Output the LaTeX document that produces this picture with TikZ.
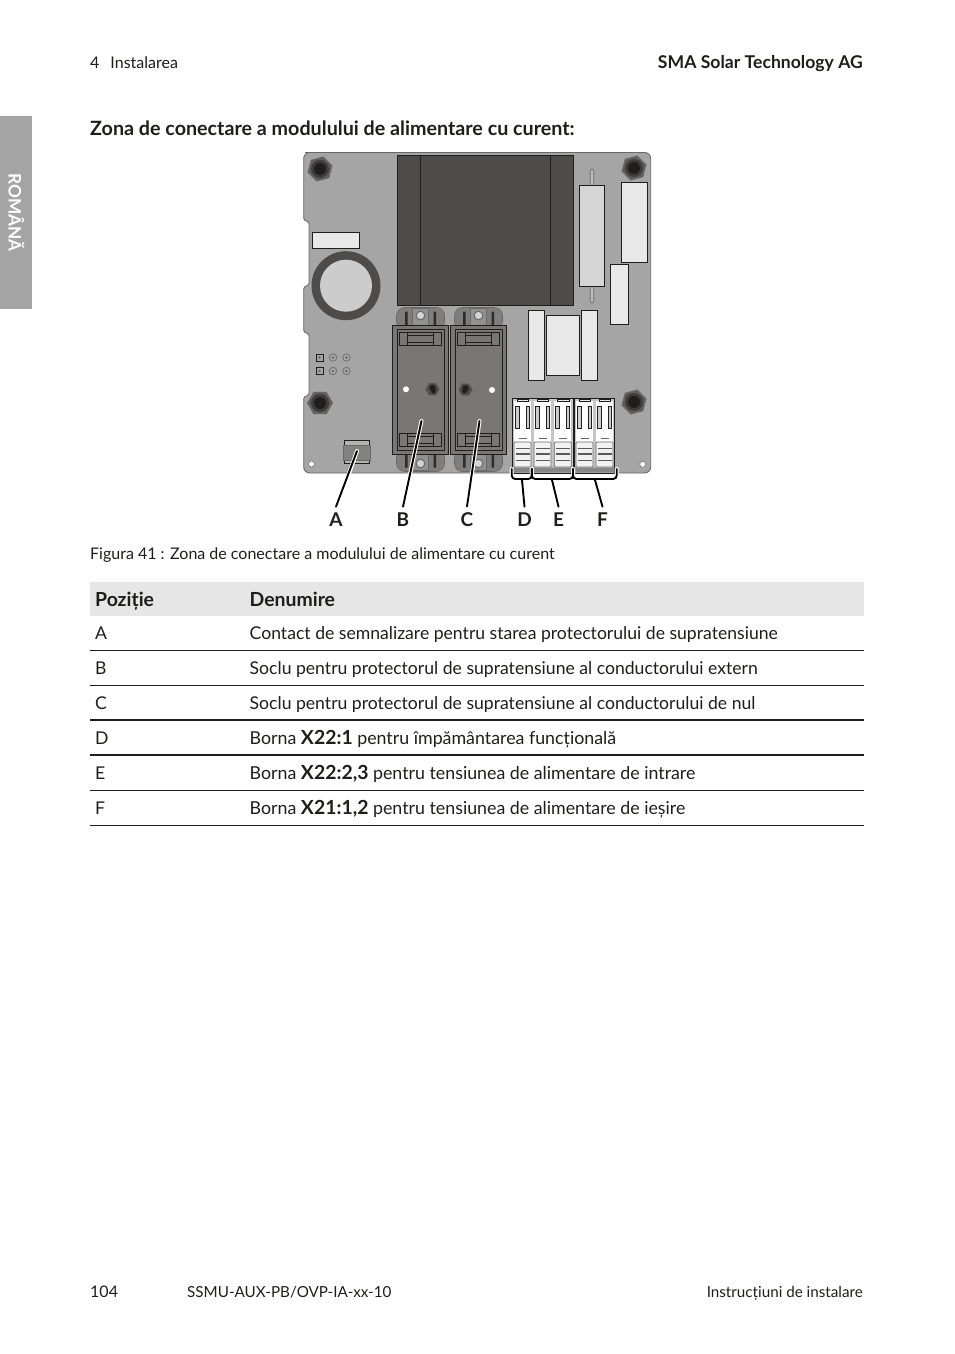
\documentclass[tikz,border=0pt]{standalone}
\usepackage{fontspec}
\setmainfont{Lato}
\usetikzlibrary{shapes.geometric}
\definecolor{board}{HTML}{A6A5A5}
\definecolor{edge}{HTML}{6A6969}
\definecolor{xfmr}{HTML}{4D4C4B}
\definecolor{ink}{HTML}{1E1E1C}
\definecolor{pale}{HTML}{E8E8E8}
\definecolor{sockfill}{HTML}{787776}
\definecolor{tabfill}{HTML}{7F7E7D}
\definecolor{sidebar}{HTML}{A5A4A4}
\definecolor{headfill}{HTML}{E6E6E6}
\newcommand{\bolder}[1]{{\fontsize{19.4}{20}\selectfont\bfseries #1}}
\tikzset{
  part/.style={draw=ink,line width=0.9pt,fill=pale},
  body/.style={anchor=base west,inner sep=0pt,text=ink,font=\fontsize{17.6}{20}\selectfont},
  bodyb/.style={anchor=base west,inner sep=0pt,text=ink,font=\fontsize{17.8}{20}\selectfont},
  bodyr/.style={anchor=base east,inner sep=0pt,text=ink,font=\fontsize{17.6}{20}\selectfont},
  small/.style={anchor=base west,inner sep=0pt,text=ink,font=\fontsize{16}{20}\selectfont},
  foot/.style={anchor=base west,inner sep=0pt,text=ink,font=\fontsize{15.2}{20}\selectfont},
  footr/.style={anchor=base east,inner sep=0pt,text=ink,font=\fontsize{15.2}{20}\selectfont},
  callout/.style={inner sep=0pt,outer sep=6pt,text=ink,font=\fontsize{19}{20}\selectfont\bfseries},
  halo/.style={white,line width=4pt,line cap=round},
  lead/.style={black,line width=1.9pt,line cap=round},
  rule/.style={ink,line width=0.9pt},
  thickrule/.style={ink,line width=1.7pt},
  nutouter/.style={regular polygon,regular polygon sides=6,minimum size=25pt,inner sep=0pt,fill=xfmr!90!white,draw=edge,line width=0.8pt},
  pinsq/.style={draw=ink,line width=0.9pt,fill=board,minimum size=7pt,inner sep=0pt},
  pinrd/.style={circle,draw=edge,line width=0.7pt,fill=board,minimum size=7.5pt,inner sep=0pt},
}
\newcommand{\boltnut}[3]{%
  \node[nutouter,rotate=#3] at (#1,#2) {};
  \fill[xfmr!80!black] (#1,#2) circle (9);
  \fill[ink] (#1,#2) circle (6);
}
\newcommand{\sockettab}[1]{%
  \begin{scope}[shift={(420.5,389.5)},yscale=#1]
    \fill[tabfill,draw=edge,line width=0.6pt,rounded corners=8] (-24,-60) -- (-24,-82) -- (24,-82) -- (24,-60) -- cycle;
    \fill[tabfill!85!white] (-8,-81) rectangle (8,-64);
    \fill[ink!85!tabfill] (-15.5,-64) rectangle (-13,-78) (13,-64) rectangle (15.5,-78);
    \draw[edge,line width=0.8pt] (-8,-65) -- (-8,-81) -- (8,-81) -- (8,-65);
    \fill[pale!70!board,draw=edge,line width=1pt] (0,-74) circle (4.3);
  \end{scope}
}
\newcommand{\socketclip}[1]{%
  \begin{scope}[shift={(420.5,389.5)},yscale=#1]
    \draw[ink,line width=0.9pt] (-21,-57) rectangle (21,-43.8);
    \draw[ink,line width=0.9pt] (-13,-57) rectangle (13,-43.8);
    \draw[ink,line width=0.9pt] (-13,-53.8) -- (13,-53.8) (-13,-47.2) -- (13,-47.2);
  \end{scope}
}
\newcommand{\socketbody}{%
  \sockettab{1}\sockettab{-1}
  \fill[sockfill,draw=ink,line width=0.9pt] (392.3,325) rectangle (448.5,454.5);
  \draw[ink,line width=0.9pt,fill=sockfill] (397.3,329.3) rectangle (444.3,450);
  \socketclip{1}\socketclip{-1}
}
\newcommand{\termmodule}{%
  \fill[white] (0,3) rectangle (17,44);
  \fill[pale,draw=ink,line width=0.7pt] (3.5,1) rectangle (14.7,3.8);
  \draw[ink,line width=1pt,fill=board!55!white] (1.4,8.5) rectangle (5.4,30);
  \draw[ink,line width=1pt,fill=board!55!white] (12,8.5) rectangle (15.6,30);
  \draw[edge,line width=0.9pt] (4.5,40.5) -- (12.5,40.5);
  \fill[pale!60!white,draw=edge,line width=0.7pt,rounded corners=1] (0,44) rectangle (17,69);
  \foreach \yy/\ww in {50/0.9,56/1.5,62.5/0.9}{
    \draw[edge!80!ink,line width=\ww pt] (1.5,\yy) -- (15.5,\yy);
  }
}
\begin{document}
\begin{tikzpicture}[x=1pt,y=-1pt]
\useasboundingbox (0,0) rectangle (954,1354);
\fill[white] (0,0) rectangle (954,1354);

% ---------- page furniture
\node[small] (hdl) at (90,68) {4\hspace{11pt}Instalarea};
\node[bodyr] (hdr) at (863,68.7) {\bfseries SMA Solar Technology AG};
\fill[sidebar] (0,116) rectangle (32,309);
\node[rotate=-90,text=white,inner sep=0pt,font=\fontsize{17.2}{18}\selectfont\bfseries] (side) at (16.5,212.5) {ROMÂNĂ};
\node[anchor=base west,inner sep=0pt,text=ink] (title) at (90,135.7) {\fontsize{19.7}{20}\selectfont\bfseries Zona de conectare a modulului de alimentare cu curent:};
\node[small] (cap) at (90,559) {Figura 41 : Zona de conectare a modulului de alimentare cu curent};

% ---------- board
\draw[fill=board,draw=edge,line width=0.9pt,rounded corners=1.5]
  (311,152.5) -- (642,152.5) [rounded corners=6] -- (650.7,152.5) -- (650.7,473) -- (303.7,473) [rounded corners=1.5]
  -- (303.7,397) -- (309,395) -- (309,334) -- (303.7,332) -- (303.7,287) -- (309,285)
  -- (309,222) -- (303.7,220) [rounded corners=6] -- (303.7,152.5) -- cycle;

% transformer
\fill[xfmr,draw=ink,line width=0.9pt] (397.3,155) rectangle (573.5,305.3);
\draw[ink,line width=0.9pt] (420.5,155) -- (420.5,305.3) (550.5,155) -- (550.5,305.3);

% nuts
\boltnut{320}{169}{15}
\boltnut{634}{168}{15}
\boltnut{320}{403}{0}
\boltnut{634}{402}{15}

% label plate and capacitor
\draw[part] (312.3,232.3) rectangle (359.7,248.3);
\fill[xfmr] (346,285.7) circle (34.5);
\fill[pale!88!black] (346,285.7) circle (26);

% right-hand parts
\fill[board!70!white,draw=edge,line width=0.7pt,rounded corners=1.5] (590.3,169) rectangle (593.7,303);
\draw[part,fill=pale!92!black] (579.4,185.3) rectangle (604.6,286.3);
\draw[part] (621.4,182.3) rectangle (647.6,262.3);
\draw[part] (610.4,264.3) rectangle (628.6,324.3);
\draw[part] (528.4,310.3) rectangle (544.6,380);
\draw[part] (546.4,315.3) rectangle (579.6,375);
\draw[part] (581.4,310.3) rectangle (597.6,380);

% pins
\foreach \py in {357.5,371}{
  \node[pinsq] at (319.5,\py) {};
  \fill[edge] (319.5,\py) circle (1.3);
  \foreach \px in {333,346.5}{
    \node[pinrd] at (\px,\py) {};
    \fill[edge] (\px,\py) circle (1.3);
  }
}
\fill[white,draw=edge,line width=0.5pt] (311.5,464) circle (3);
\fill[white,draw=edge,line width=0.5pt] (642.7,464.3) circle (3);

% sockets
\socketbody
\begin{scope}[shift={(58,0)}]\socketbody\end{scope}
\fill[white] (406,389.3) circle (3);
\fill[white] (492,390) circle (3);
\node[regular polygon,regular polygon sides=6,minimum size=14pt,inner sep=0pt,fill=xfmr,draw=edge,line width=0.5pt] at (432.5,389.3) {};
\fill[ink] (432.5,388) circle (3.2) (433.5,391) circle (2.4);
\node[regular polygon,regular polygon sides=6,minimum size=14pt,inner sep=0pt,fill=xfmr,draw=edge,line width=0.5pt] at (465.5,389.5) {};
\fill[ink] (465.5,388.5) circle (3.2) (464.5,391) circle (2.4);

% signal contact
\draw[ink,line width=0.8pt,fill=board!85!white] (344.5,440.3) rectangle (369.7,463);
\fill[xfmr!70!white,draw=edge,line width=0.6pt] (343.3,445.3) rectangle (370.7,460);

% terminal blocks
\fill[board!65!white,draw=ink,line width=0.9pt] (512.4,398.5) rectangle (573,473);
\fill[board!65!white,draw=ink,line width=0.9pt] (574,398.5) rectangle (614.7,473);
\fill[edge!80!white] (512.9,467.5) rectangle (572.5,472.5) (574.5,467.5) rectangle (614.2,472.5);
\foreach \tx in {514,534,554.3,576,596}{
  \begin{scope}[shift={(\tx,398)}]\termmodule\end{scope}
}

% brackets
\foreach \st in {halo,lead}{
  \draw[\st,rounded corners=3.5] (511.7,469) -- (511.7,479) -- (531.8,479) -- (531.8,469);
  \draw[\st,rounded corners=3.5] (531.8,469) -- (531.8,479) -- (573,479) -- (573,469);
  \draw[\st,rounded corners=3.5] (573,469) -- (573,479) -- (616.7,479) -- (616.7,469);
}

% callouts
\node[callout] (lA) at (336,519.5) {A};
\node[callout] (lB) at (403,519.5) {B};
\node[callout] (lC) at (467,519.5) {C};
\node[callout] (lD) at (524.5,519.5) {D};
\node[callout] (lE) at (558.5,519.5) {E};
\node[callout] (lF) at (602.5,519.5) {F};
\coordinate (tA) at (357,451);
\coordinate (tB) at (421.5,421);
\coordinate (tC) at (479.5,421);
\coordinate (tD) at (522,480);
\coordinate (tE) at (552,480);
\coordinate (tF) at (595,480);
\coordinate (hA) at (339,502);
\coordinate (hB) at (404,502);
\coordinate (hC) at (468,502);
\draw[halo] (tA) -- (hA);
\draw[halo] (tB) -- (hB);
\draw[halo] (tC) -- (hC);
\draw[lead] (tA) -- (lA.north);
\draw[lead] (tB) -- (lB.north);
\draw[lead] (tC) -- (lC.north);
\draw[lead] (tD) -- (lD.north);
\draw[lead] (tE) -- (lE.north);
\draw[lead] (tF) -- (lF.north);

% ---------- table
\fill[headfill] (90,582) rectangle (864,616);
\node[body] (h1) at (95,606.3) {\bolder{Poziție}};
\node[body] (h2) at (249.5,606.3) {\bolder{Denumire}};
\node[body] (a1) at (95,639.5) {A};
\node[body] (a2) at (249.5,639.5) {Contact de semnalizare pentru starea protectorului de supratensiune};
\node[body] (b1) at (95,674.5) {B};
\node[body] (b2) at (249.5,674.5) {Soclu pentru protectorul de supratensiune al conductorului extern};
\node[body] (c1) at (95,709.5) {C};
\node[body] (c2) at (249.5,709.5) {Soclu pentru protectorul de supratensiune al conductorului de nul};
\node[body] (d1) at (95,744) {D};
\node[bodyb] (d2) at (249.5,744) {Borna \bolder{X22:1} pentru împământarea funcțională};
\node[body] (e1) at (95,779) {E};
\node[bodyb] (e2) at (249.5,779) {Borna \bolder{X22:2,3} pentru tensiunea de alimentare de intrare};
\node[body] (f1) at (95,814) {F};
\node[bodyb] (f2) at (249.5,814) {Borna \bolder{X21:1,2} pentru tensiunea de alimentare de ieșire};
\draw[rule] (90,650.5) -- (864,650.5);
\draw[rule] (90,685.5) -- (864,685.5);
\draw[thickrule] (90,720) -- (864,720);
\draw[thickrule] (90,755) -- (864,755);
\draw[rule] (90,790.5) -- (864,790.5);
\draw[rule] (90,825.5) -- (864,825.5);

% ---------- footer
\node[small] (ft1) at (90,1297) {104};
\node[foot] (ft2) at (187,1297) {SSMU-AUX-PB/OVP-IA-xx-10};
\node[footr] (ft3) at (863,1297) {Instrucțiuni de instalare};
\end{tikzpicture}
\end{document}
